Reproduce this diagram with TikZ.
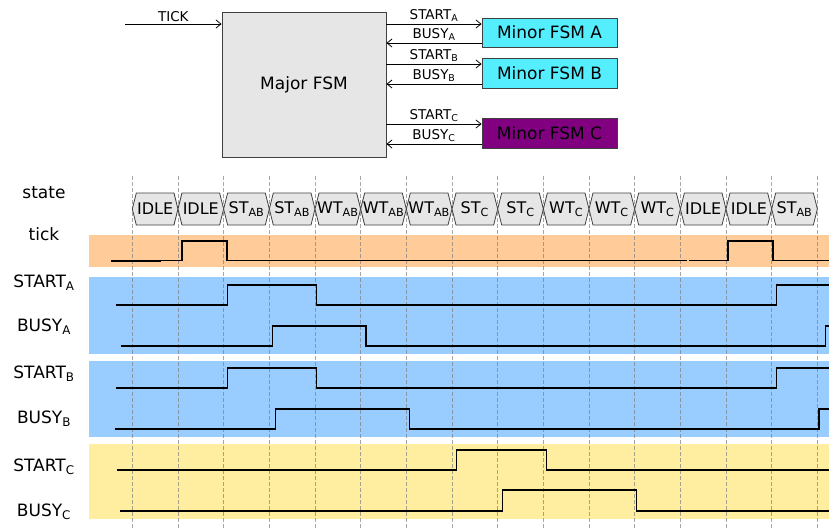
\documentclass[tikz,border=0pt]{standalone}
\usepackage{fontspec}
\setmainfont{DejaVu Sans}
\usepackage{tikz}
\usetikzlibrary{positioning}
\usetikzlibrary{arrows.meta}
\usepackage{xcolor}

\definecolor{tickband}{HTML}{FFCC99}
\definecolor{bandab}{HTML}{99CCFF}
\definecolor{bandc}{HTML}{FFEEA0}
\definecolor{minorab}{HTML}{55EEFF}
\definecolor{minorc}{HTML}{800080}
\definecolor{fsmgray}{HTML}{E6E6E6}

\begin{document}
\begin{tikzpicture}[x=1pt, y=-1pt,
  every node/.style={font=\fontsize{17}{20}\selectfont, inner sep=0pt},
  fsmbox/.style={draw=black!75, thick},
  sig/.style={-{Straight Barb[length=5pt,width=8pt]}, thick},
  siglab/.style={font=\fontsize{13.5}{15}\selectfont, above=2pt},
  wave/.style={black, line width=1.1pt},
  grid line/.style={gray, opacity=0.7, dashed, dash pattern=on 4pt off 2pt, line width=0.6pt},
  hexbox/.style={draw=black!75, fill=fsmgray, line width=0.8pt},
  hexlab/.style={font=\fontsize{16}{18}\selectfont}]

\useasboundingbox (0,0) rectangle (829,530);

% block diagram
\node[fsmbox, fill=fsmgray, minimum width=164pt, minimum height=145pt] (major) at (304,84.5) {Major FSM};
\node[fsmbox, fill=minorab, minimum width=135pt, minimum height=29pt] (minA) at (549.5,32.5) {Minor FSM A};
\node[fsmbox, fill=minorab, minimum width=135pt, minimum height=30pt] (minB) at (549.5,73) {Minor FSM B};
\node[fsmbox, fill=minorc, minimum width=135pt, minimum height=30pt] (minC) at (549.5,133) {Minor FSM C};

\coordinate (tickin) at (125,24);
\coordinate (sA) at ([yshift=8.5pt]minA.west);
\coordinate (bA) at ([yshift=-10.5pt]minA.west);
\coordinate (sB) at ([yshift=9pt]minB.west);
\coordinate (bB) at ([yshift=-11pt]minB.west);
\coordinate (sC) at ([yshift=9pt]minC.west);
\coordinate (bC) at ([yshift=-11pt]minC.west);

\draw[sig] (tickin) -- (tickin -| major.west) node[midway, siglab] {TICK};
\draw[sig] (sA -| major.east) -- (sA) node[midway, siglab] {START\textsubscript{A}};
\draw[sig] (bA) -- (bA -| major.east) node[midway, siglab] {BUSY\textsubscript{A}};
\draw[sig] (sB -| major.east) -- (sB) node[midway, siglab] {START\textsubscript{B}};
\draw[sig] (bB) -- (bB -| major.east) node[midway, siglab] {BUSY\textsubscript{B}};
\draw[sig] (sC -| major.east) -- (sC) node[midway, siglab] {START\textsubscript{C}};
\draw[sig] (bC) -- (bC -| major.east) node[midway, siglab] {BUSY\textsubscript{C}};

% bands
\fill[tickband] (89,235) rectangle (829,267);
\fill[bandab] (89,277) rectangle (829,354);
\fill[bandab] (89,361) rectangle (829,437);
\fill[bandc] (89,444) rectangle (829,519);

% timing grid
\foreach \k in {0,...,15} {
  \pgfmathsetmacro\gx{132.3+45.67*\k}
  \draw[grid line] (\gx,176) -- (\gx,530);
}

% states
\foreach \lab [count=\i from 0] in {IDLE,IDLE,ST\textsubscript{AB},ST\textsubscript{AB},WT\textsubscript{AB},WT\textsubscript{AB},WT\textsubscript{AB},ST\textsubscript{C},ST\textsubscript{C},WT\textsubscript{C},WT\textsubscript{C},WT\textsubscript{C},IDLE,IDLE,ST\textsubscript{AB}} {
  \pgfmathsetmacro\xa{132.3+45.67*\i}
  \pgfmathsetmacro\xb{\xa+45.67}
  \draw[hexbox] (\xa,209) -- (\xa+4,193) -- (\xb-4,193) -- (\xb,209) -- (\xb-4,225) -- (\xa+4,225) -- cycle;
  \node[hexlab] (st\i) at ({(\xa+\xb)/2},209) {\lab};
}

% labels
\node (lstate) at (44,193) {state};
\node (ltick) at (44,234) {tick};
\node (lsa) at (44,283) {START\textsubscript{A}};
\node (lba) at (44,327) {BUSY\textsubscript{A}};
\node (lsb) at (44,374) {START\textsubscript{B}};
\node (lbb) at (44,419) {BUSY\textsubscript{B}};
\node (lsc) at (44,467) {START\textsubscript{C}};
\node (lbc) at (44,512) {BUSY\textsubscript{C}};

% waveforms
\draw[wave] (111,260.7) -| (182,241) -| (227,260.7) -- (687,260.7);
\draw[wave] (689,260.7) -| (728,241) -| (773,260.7) -- (829,260.7);
\draw[black, line width=1.8pt] (111,260.7) -- (161,260.7);
\draw[wave] (116,305) -| (227.3,285) -| (316.7,305) -| (776.7,285) -- (829,285);
\draw[wave] (120.7,346) -| (272.3,326) -| (366,346) -| (825.7,326) -- (829,326);
\draw[wave] (116,388) -| (227.3,368) -| (316.7,388) -| (776.7,368) -- (829,368);
\draw[wave] (115,429) -| (275.3,409) -| (409.3,429) -| (819,409) -- (829,409);
\draw[wave] (117.4,470) -| (456.5,450) -| (546.3,470) -- (829,470);
\draw[wave] (119.5,511) -| (502.4,490) -| (636.2,511) -- (829,511);
\end{tikzpicture}
\end{document}
